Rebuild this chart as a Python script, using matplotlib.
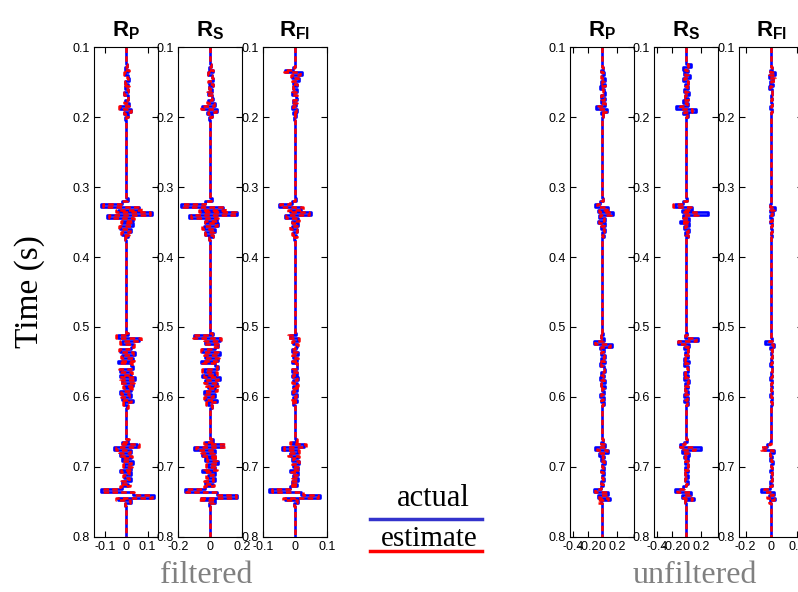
import numpy as np
import matplotlib
matplotlib.use("Agg")
import matplotlib.pyplot as plt
from matplotlib.lines import Line2D

plt.rcParams["font.family"] = "Liberation Sans"
plt.rcParams["axes.unicode_minus"] = False
plt.rcParams["mathtext.fontset"] = "custom"
plt.rcParams["mathtext.rm"] = "Liberation Sans"
plt.rcParams["mathtext.bf"] = "Liberation Sans:bold"

# sample interval (ms) and the windows (ms) where the traces are non-zero
dt_ms = 4
windows_ms = [(124, 200), (316, 372), (508, 612), (660, 752)]

# ---- filtered reflectivities (one line per window) ----
fp_act = [0.004, -0.006, 0.010, -0.008, 0.006, 0.012, -0.006, 0.010, -0.004, 0.008, -0.010, 0.006, 0.010, -0.008, 0.014, -0.030, 0.024, -0.012, 0.008, -0.004,
          0.006, -0.020, -0.120, 0.060, -0.040, 0.120, -0.090, 0.030, -0.020, 0.030, -0.030, 0.020, -0.020, 0.010, -0.006,
          0.010, -0.040, 0.060, -0.020, 0.030, 0.020, -0.030, 0.040, -0.020, 0.030, -0.040, 0.020, 0.030, -0.030, 0.020, -0.030, 0.040, -0.020, 0.030, -0.010, 0.020, -0.030, 0.020, -0.020, 0.030, -0.010, 0.005,
          0.010, -0.020, 0.050, -0.060, 0.020, -0.030, 0.020, -0.020, 0.030, -0.010, 0.020, -0.030, 0.020, -0.010, 0.020, -0.020, 0.010, -0.020, -0.120, 0.030, 0.130, -0.040, 0.020, -0.006]
fp_est = [0.002, -0.004, 0.012, -0.010, 0.004, 0.010, -0.008, 0.012, -0.006, 0.006, -0.012, 0.008, 0.008, -0.010, 0.012, -0.034, 0.020, -0.010, 0.006, -0.002,
          0.004, -0.026, -0.110, 0.070, -0.050, 0.110, -0.080, 0.036, -0.026, 0.024, -0.036, 0.016, -0.024, 0.014, -0.004,
          0.006, -0.050, 0.070, -0.030, 0.036, 0.014, -0.036, 0.030, -0.026, 0.036, -0.030, 0.026, 0.024, -0.036, 0.026, -0.024, 0.034, -0.030, 0.036, -0.016, 0.026, -0.024, 0.014, -0.026, 0.024, -0.016, 0.008,
          0.014, -0.026, 0.060, -0.050, 0.016, -0.036, 0.026, -0.014, 0.024, -0.016, 0.026, -0.024, 0.014, -0.016, 0.014, -0.026, 0.016, -0.030, -0.110, 0.036, 0.120, -0.050, 0.016, -0.004]

fs_act = [0.006, -0.010, 0.016, -0.012, 0.010, 0.020, -0.010, 0.014, -0.006, 0.012, -0.016, 0.010, 0.016, -0.014, 0.030, -0.050, 0.040, -0.020, 0.010, -0.006,
          0.010, -0.030, -0.180, 0.080, -0.060, 0.170, -0.130, 0.040, -0.030, 0.050, -0.040, 0.030, -0.030, 0.016, -0.010,
          0.014, -0.100, 0.060, -0.030, 0.050, 0.030, -0.050, 0.060, -0.030, 0.050, -0.060, 0.030, 0.050, -0.040, 0.030, -0.050, 0.060, -0.030, 0.040, -0.016, 0.030, -0.040, 0.030, -0.030, 0.040, -0.016, 0.008,
          0.016, -0.030, 0.080, -0.100, 0.030, -0.050, 0.030, -0.030, 0.050, -0.016, 0.030, -0.050, 0.030, -0.016, 0.030, -0.030, 0.016, -0.030, -0.160, 0.040, 0.170, -0.060, 0.030, -0.010]
fs_est = [0.004, -0.008, 0.018, -0.016, 0.008, 0.016, -0.014, 0.018, -0.010, 0.010, -0.018, 0.014, 0.012, -0.018, 0.026, -0.056, 0.034, -0.016, 0.012, -0.004,
          0.006, -0.036, -0.170, 0.090, -0.070, 0.160, -0.120, 0.050, -0.036, 0.040, -0.050, 0.024, -0.036, 0.020, -0.006,
          0.010, -0.110, 0.070, -0.040, 0.056, 0.020, -0.056, 0.050, -0.040, 0.056, -0.050, 0.040, 0.040, -0.050, 0.040, -0.040, 0.050, -0.040, 0.050, -0.024, 0.040, -0.030, 0.020, -0.040, 0.030, -0.024, 0.010,
          0.020, -0.040, 0.090, -0.090, 0.024, -0.056, 0.040, -0.020, 0.040, -0.024, 0.040, -0.040, 0.020, -0.024, 0.020, -0.040, 0.024, -0.040, -0.150, 0.050, 0.160, -0.070, 0.024, -0.006]

ff_act = [0.000, -0.004, -0.030, 0.022, -0.010, 0.012, -0.006, 0.008, -0.004, 0.006, -0.008, 0.004, 0.006, -0.006, 0.004, -0.008, 0.006, -0.004, 0.004, -0.002,
          0.004, -0.010, -0.050, 0.020, -0.016, 0.050, -0.030, 0.010, -0.010, 0.010, -0.010, 0.008, -0.006, 0.004, -0.002,
          0.004, -0.016, 0.010, -0.006, 0.008, 0.004, -0.008, 0.010, -0.006, 0.008, -0.010, 0.006, 0.008, -0.008, 0.006, -0.008, 0.010, -0.006, 0.008, -0.004, 0.006, -0.008, 0.006, -0.006, 0.008, -0.004, 0.002,
          0.004, -0.010, 0.030, -0.040, 0.010, -0.016, 0.010, -0.010, 0.014, -0.006, 0.010, -0.014, 0.010, -0.006, 0.010, -0.010, 0.006, -0.014, -0.080, 0.020, 0.080, -0.030, 0.010, -0.002]
ff_est = [0.002, -0.002, -0.034, 0.016, -0.012, 0.010, -0.008, 0.006, -0.006, 0.004, -0.010, 0.006, 0.004, -0.008, 0.006, -0.006, 0.004, -0.006, 0.002, -0.002,
          0.002, -0.014, -0.046, 0.026, -0.020, 0.044, -0.026, 0.014, -0.008, 0.008, -0.014, 0.006, -0.008, 0.006, -0.002,
          0.002, -0.020, 0.014, -0.008, 0.010, 0.002, -0.010, 0.008, -0.008, 0.010, -0.008, 0.008, 0.006, -0.010, 0.008, -0.006, 0.008, -0.008, 0.010, -0.006, 0.008, -0.006, 0.004, -0.008, 0.006, -0.006, 0.002,
          0.006, -0.014, 0.036, -0.034, 0.012, -0.020, 0.012, -0.006, 0.012, -0.008, 0.012, -0.012, 0.006, -0.008, 0.006, -0.012, 0.008, -0.016, -0.070, 0.026, 0.074, -0.036, 0.008, -0.002]

# ---- unfiltered reflectivities ----
up_act = [0.000, 0.010, -0.020, 0.020, -0.010, 0.030, -0.020, 0.040, -0.030, 0.020, 0.030, -0.020, 0.030, -0.020, 0.040, -0.090, 0.070, -0.020, 0.010, 0.000,
          0.010, -0.030, -0.100, 0.080, -0.060, 0.150, -0.040, 0.030, -0.060, 0.030, -0.020, 0.030, -0.010, 0.020, 0.000,
          0.010, -0.020, 0.020, -0.120, 0.130, -0.030, 0.020, -0.020, 0.030, -0.020, 0.030, -0.030, 0.020, 0.030, -0.020, 0.020, -0.030, 0.030, -0.020, 0.030, -0.010, 0.020, -0.030, 0.020, -0.020, 0.020, 0.000,
          0.010, -0.020, 0.040, -0.100, 0.080, -0.040, 0.020, -0.020, 0.030, -0.010, 0.020, -0.020, 0.020, -0.010, 0.020, -0.020, 0.010, -0.020, -0.120, 0.080, -0.060, 0.100, -0.020, 0.000]
up_est = [0.000, 0.006, -0.016, 0.016, -0.014, 0.020, -0.010, 0.030, -0.020, 0.016, 0.020, -0.016, 0.020, -0.016, 0.030, -0.060, 0.050, -0.016, 0.006, 0.000,
          0.006, -0.020, -0.080, 0.060, -0.050, 0.120, -0.030, 0.020, -0.050, 0.020, -0.016, 0.020, -0.010, 0.016, 0.000,
          0.006, -0.016, 0.016, -0.100, 0.110, -0.020, 0.016, -0.016, 0.020, -0.016, 0.020, -0.020, 0.016, 0.020, -0.016, 0.016, -0.020, 0.020, -0.016, 0.020, -0.006, 0.016, -0.020, 0.016, -0.016, 0.016, 0.000,
          0.006, -0.016, 0.030, -0.080, 0.060, -0.030, 0.016, -0.016, 0.020, -0.010, 0.016, -0.016, 0.016, -0.010, 0.016, -0.016, 0.006, -0.016, -0.100, 0.060, -0.050, 0.080, -0.060, 0.000]

us_act = [0.060, -0.040, 0.020, -0.030, 0.050, -0.040, 0.030, -0.020, 0.020, -0.030, 0.040, -0.020, 0.030, -0.040, 0.020, -0.140, 0.130, -0.040, 0.020, 0.000,
          0.010, -0.040, -0.150, 0.080, -0.060, 0.300, -0.050, 0.040, -0.080, 0.040, -0.030, 0.040, -0.020, 0.030, 0.000,
          0.010, -0.020, 0.160, -0.110, 0.040, -0.030, 0.030, -0.020, 0.030, -0.030, 0.040, -0.030, 0.020, 0.030, -0.030, 0.030, -0.030, 0.040, -0.020, 0.030, -0.020, 0.030, -0.030, 0.020, -0.030, 0.020, 0.000,
          0.010, -0.030, -0.080, 0.200, -0.060, 0.040, -0.030, 0.030, -0.020, 0.030, -0.020, 0.030, -0.020, 0.020, -0.020, 0.020, -0.010, -0.040, -0.150, 0.060, -0.060, 0.100, -0.020, 0.000]
us_est = [0.030, -0.020, 0.010, -0.020, 0.030, -0.030, 0.020, -0.020, 0.010, -0.020, 0.030, -0.020, 0.020, -0.030, 0.010, -0.090, 0.080, -0.030, 0.010, 0.000,
          0.006, -0.030, -0.180, 0.060, -0.050, 0.160, -0.040, 0.030, -0.060, 0.030, -0.020, 0.030, -0.016, 0.020, 0.000,
          0.006, -0.016, 0.140, -0.120, 0.030, -0.020, 0.020, -0.016, 0.020, -0.020, 0.030, -0.020, 0.016, 0.020, -0.020, 0.020, -0.020, 0.030, -0.016, 0.020, -0.016, 0.020, -0.020, 0.016, -0.020, 0.016, 0.000,
          0.006, -0.020, -0.090, 0.120, -0.050, 0.030, -0.020, 0.020, -0.016, 0.020, -0.016, 0.020, -0.016, 0.016, -0.016, 0.016, -0.006, -0.030, -0.130, 0.050, -0.040, 0.080, -0.020, 0.000]

uf_act = [0.000, 0.004, -0.010, 0.030, -0.020, 0.010, -0.006, 0.010, -0.020, 0.006, 0.004, -0.004, 0.006, -0.004, 0.004, -0.006, 0.004, -0.004, 0.000, 0.000,
          0.000, -0.004, -0.010, 0.030, -0.010, 0.010, -0.006, 0.006, -0.010, 0.004, -0.004, 0.004, -0.002, 0.004, 0.000,
          0.000, -0.004, 0.006, -0.050, 0.020, -0.006, 0.004, -0.004, 0.006, -0.004, 0.006, -0.006, 0.004, 0.006, -0.004, 0.004, -0.006, 0.006, -0.004, 0.006, -0.002, 0.004, -0.006, 0.004, -0.004, 0.004, 0.000,
          0.000, -0.006, -0.030, -0.060, 0.020, -0.010, 0.006, -0.006, 0.010, -0.004, 0.006, -0.006, 0.006, -0.004, 0.006, -0.006, 0.004, -0.006, -0.080, 0.020, -0.020, 0.030, -0.006, 0.000]
uf_est = [0.000, 0.002, -0.006, 0.020, -0.014, 0.030, -0.004, 0.006, -0.010, 0.004, 0.002, -0.002, 0.004, -0.002, 0.002, -0.004, 0.002, -0.002, 0.000, 0.000,
          0.000, -0.002, -0.008, 0.020, -0.008, 0.008, -0.004, 0.004, -0.008, 0.002, -0.002, 0.002, -0.002, 0.002, 0.000,
          0.000, -0.002, 0.004, -0.020, 0.010, -0.004, 0.002, -0.002, 0.004, -0.002, 0.004, -0.004, 0.002, 0.004, -0.002, 0.002, -0.004, 0.004, -0.002, 0.004, -0.002, 0.002, -0.004, 0.002, -0.002, 0.002, 0.000,
          0.000, -0.004, -0.020, -0.080, 0.010, -0.006, 0.004, -0.004, 0.006, -0.002, 0.004, -0.004, 0.004, -0.002, 0.004, -0.004, 0.002, -0.010, -0.060, 0.016, -0.030, 0.020, -0.020, 0.000]

titles = [r"$\mathbf{R}_\mathbf{P}$", r"$\mathbf{R}_\mathbf{S}$", r"$\mathbf{R}_\mathbf{Fl}$"]
filt_xlims = [(-0.15, 0.15), (-0.2, 0.2), (-0.1, 0.1)]
filt_xticks = [[-0.1, 0, 0.1], [-0.2, 0, 0.2], [-0.1, 0, 0.1]]
unfilt_xlims = [(-0.44, 0.44), (-0.44, 0.44), (-0.25, 0.25)]
unfilt_xticks = [[-0.4, -0.2, 0, 0.2], [-0.4, -0.2, 0, 0.2], [-0.2, 0, 0.2]]
yticks = [0.1, 0.2, 0.3, 0.4, 0.5, 0.6, 0.7, 0.8]


def staircase(values):
    """Full 0.1-0.8 s trace, zero outside the windows, drawn as steps."""
    t0 = np.arange(100, 800, dt_ms)
    full = np.zeros(len(t0))
    t_win = np.concatenate([np.arange(a, b + 1, dt_ms) for a, b in windows_ms])
    full[(t_win - 100) // dt_ms] = values
    y = np.column_stack([t0, t0 + dt_ms]).ravel() / 1000.0
    x = np.repeat(full, 2)
    return x, y


def trace_panel(fig, left, act, est, xlim, xticks, title):
    ax = fig.add_axes([left, 0.0934, 0.0802, 0.8267])
    xa, ya = staircase(act)
    xe, ye = staircase(est)
    ax.plot(xa, ya, color="#0000ff", lw=1.9)
    ax.plot(xe, ye, color="#ff0000", lw=1.8, dashes=(2.2, 1.3))
    ax.set_xlim(*xlim)
    ax.set_ylim(0.8, 0.1)
    ax.set_xticks(xticks)
    ax.set_xticklabels([f"{v:g}" for v in xticks])
    ax.set_yticks(yticks)
    ax.set_yticklabels([f"{v:.1f}" for v in yticks])
    ax.tick_params(direction="in", top=True, right=True, length=4, width=0.8,
                   labelsize=9, pad=3)
    for s in ax.spines.values():
        s.set_linewidth(0.8)
    ax.set_title(title, fontsize=16, pad=8)
    return ax


fig = plt.figure(figsize=(7.98, 5.92), dpi=100)

filt_lefts = [0.1182, 0.2234, 0.3292]
unfilt_lefts = [0.7147, 0.8199, 0.9264]
filt_data = [(fp_act, fp_est), (fs_act, fs_est), (ff_act, ff_est)]
unfilt_data = [(up_act, up_est), (us_act, us_est), (uf_act, uf_est)]

for i in range(3):
    trace_panel(fig, filt_lefts[i], *filt_data[i], filt_xlims[i], filt_xticks[i], titles[i])
    trace_panel(fig, unfilt_lefts[i], *unfilt_data[i], unfilt_xlims[i], unfilt_xticks[i], titles[i])

serif = "Liberation Serif"
fig.text(0.0376, 0.508, "Time (s)", rotation=90, ha="center", va="center",
         fontsize=24, family=serif)
fig.text(0.259, 0.0152, "filtered", ha="center", va="baseline",
         fontsize=23, family=serif, color="#808080")
fig.text(0.8705, 0.0152, "unfiltered", ha="center", va="baseline",
         fontsize=23, family=serif, color="#808080")

# hand-made legend: words with a coloured bar underneath
fig.text(0.5432, 0.1453, "actual", ha="center", va="baseline", fontsize=22, family=serif)
fig.text(0.5376, 0.0777, "estimate", ha="center", va="baseline", fontsize=21, family=serif)
fig.add_artist(Line2D([0.4637, 0.604], [0.1233, 0.1233], transform=fig.transFigure,
                      color="#3333cc", lw=2.5))
fig.add_artist(Line2D([0.4637, 0.604], [0.0698, 0.0698], transform=fig.transFigure,
                      color="#ff0000", lw=2.5))

plt.savefig("out.png", dpi=100)
plt.close()
